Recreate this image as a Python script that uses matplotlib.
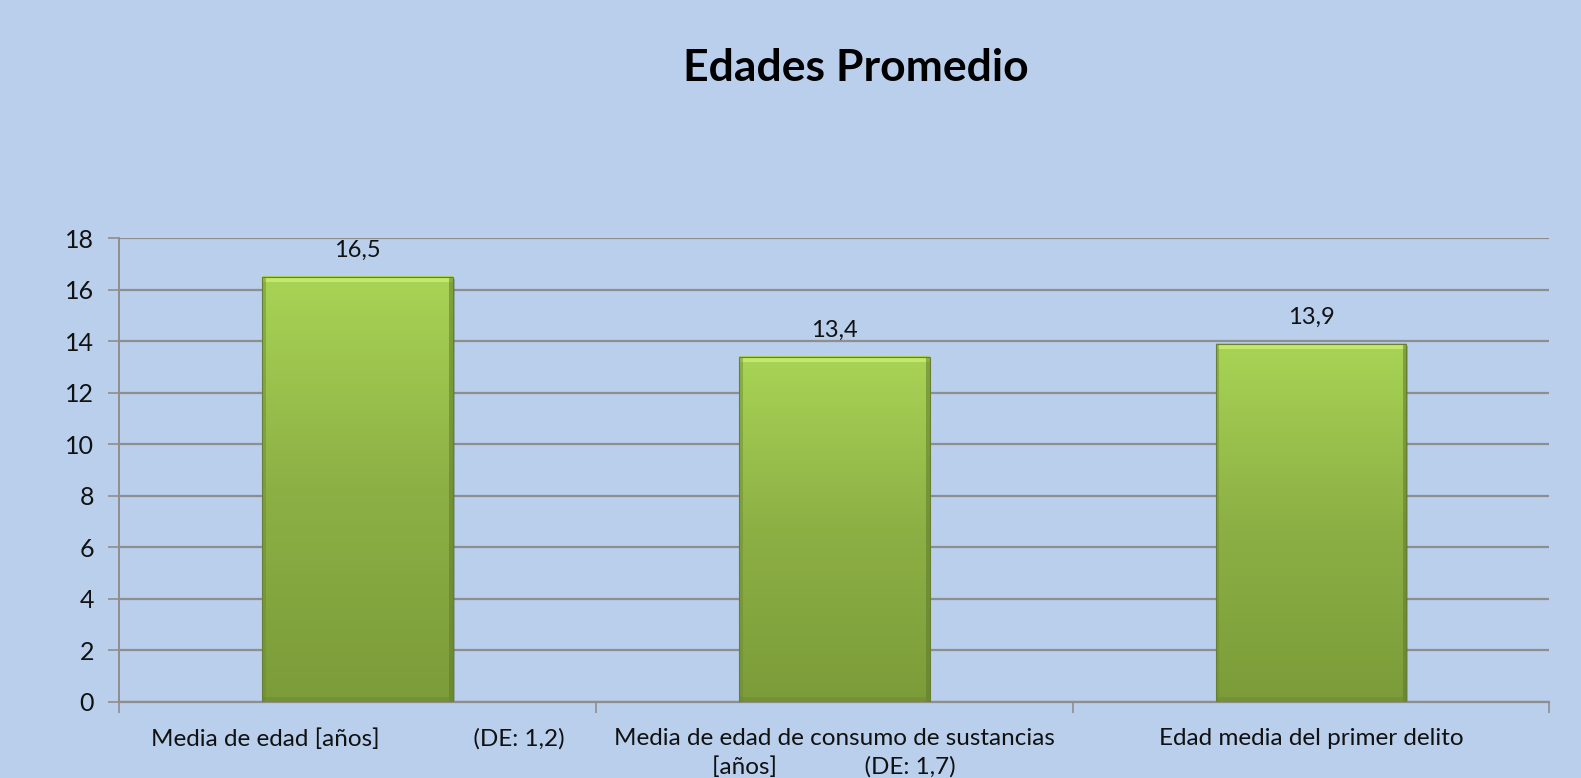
import numpy as np
import matplotlib
matplotlib.use("Agg")
import matplotlib.pyplot as plt
from matplotlib.colors import LinearSegmentedColormap

categories = [
    "Media de edad [años]               (DE: 1,2)",
    "Media de edad de consumo de sustancias\n[años]              (DE: 1,7)",
    "Edad media del primer delito",
]
values = [16.5, 13.4, 13.9]
value_labels = ["16,5", "13,4", "13,9"]
title = "Edades Promedio"
yticks = [0, 2, 4, 6, 8, 10, 12, 14, 16, 18]

plt.rcParams['font.family'] = ['Lato', 'DejaVu Sans']

bg = "#B9CFEC"
fig = plt.figure(figsize=(15.81, 7.78), dpi=100, facecolor=bg)
ax = fig.add_axes([0.0753, 0.0977, 0.9047, 0.5963], facecolor=bg)

x = np.arange(len(categories))
bars = ax.bar(x, values, width=0.40, color="none", edgecolor="none", zorder=3)

cmap = LinearSegmentedColormap.from_list("g", ["#7B9C39", "#8DB045", "#A8D455"])
grad = np.linspace(0, 1, 256).reshape(-1, 1)
for b in bars:
    x0, w, h = b.get_x(), b.get_width(), b.get_height()
    # shadow
    ax.add_patch(plt.Rectangle((x0 + 0.004, -0.1), w, h, facecolor="#4f6236", alpha=0.35,
                               edgecolor="none", zorder=2.5))
    ax.imshow(grad, cmap=cmap, origin="lower", aspect="auto",
              extent=[x0, x0 + w, 0, h], zorder=3, interpolation="bilinear")
    # bevel highlights
    ax.add_patch(plt.Rectangle((x0, h - 0.2), w, 0.2, facecolor="#CFEF78", alpha=0.75,
                               edgecolor="none", zorder=3.2))
    ax.add_patch(plt.Rectangle((x0, 0), 0.008, h, facecolor="#6E8C33", alpha=0.5,
                               edgecolor="none", zorder=3.2))
    ax.add_patch(plt.Rectangle((x0 + w - 0.008, 0), 0.008, h, facecolor="#5E7A2B", alpha=0.55,
                               edgecolor="none", zorder=3.2))
    ax.add_patch(plt.Rectangle((x0, 0), w, 0.18, facecolor="#6A8A33", alpha=0.5,
                               edgecolor="none", zorder=3.2))
    ax.add_patch(plt.Rectangle((x0, 0), w, h, facecolor="none", edgecolor="#667F35",
                               linewidth=0.8, zorder=3.3))

for b, lab in zip(bars, value_labels):
    ax.annotate(lab, (b.get_x() + b.get_width() / 2, b.get_height()),
                xytext=(0, 19), textcoords="offset points", ha="center", va="center",
                fontsize=17, color="#111111")

ax.set_xlim(-0.5, len(categories) - 0.5)
ax.set_ylim(0, 18)
ax.set_yticks(yticks)
ax.set_yticklabels([str(t) for t in yticks], fontsize=18, color="#111111")
ax.yaxis.grid(True, color="#8E8E8E", linewidth=1.6, zorder=1)
ax.set_axisbelow(True)
ax.tick_params(axis="y", length=8, width=1.2, color="#8E8E8E", pad=10)

ax.set_xticks(x)
ax.set_xticklabels(categories, fontsize=17.5, color="#111111", linespacing=1.4)
ax.tick_params(axis="x", which="major", length=0, pad=19)
ax.set_xticks(np.arange(-0.5, len(categories), 1.0), minor=True)
ax.tick_params(axis="x", which="minor", length=8, width=1.2, color="#8E8E8E")

for s in ["top", "right"]:
    ax.spines[s].set_visible(False)
ax.spines["left"].set_color("#8E8E8E")
ax.spines["bottom"].set_color("#8E8E8E")
ax.spines["left"].set_linewidth(1.4)
ax.spines["bottom"].set_linewidth(1.6)

fig.text(0.5415, 0.912, title, ha="center", va="center", fontsize=32, fontweight="bold",
         color="#000000")

fig.savefig("out.png", dpi=100, facecolor=bg)
